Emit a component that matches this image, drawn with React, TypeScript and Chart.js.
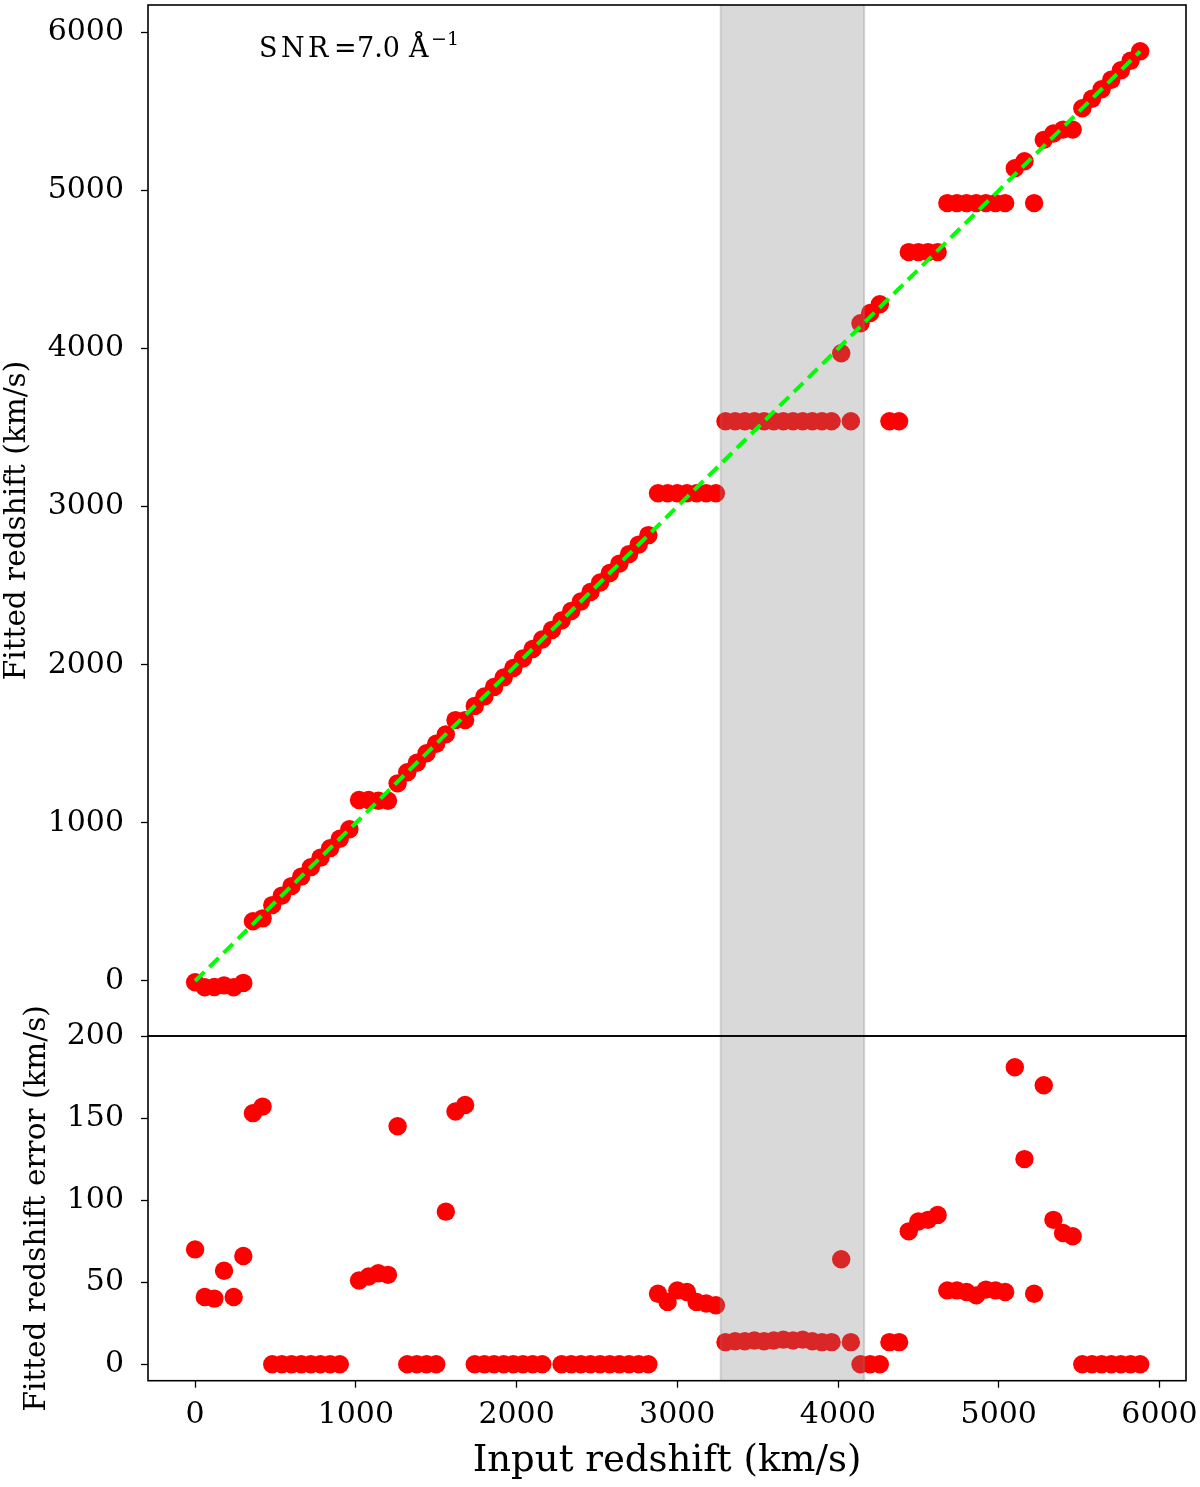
import React, { useEffect, useRef } from 'react';
import { Chart, registerables } from 'chart.js';

Chart.register(...registerables);

const FONT = '"DejaVu Serif", "Liberation Serif", serif';

const inputRedshift = [
  0, 60, 120, 180, 240, 300, 360, 420, 480, 540, 600, 660, 720, 780, 840, 900, 960, 1020, 1080, 1140,
  1200, 1260, 1320, 1380, 1440, 1500, 1560, 1620, 1680, 1740, 1800, 1860, 1920, 1980, 2040, 2100, 2160, 2220, 2280, 2340,
  2400, 2460, 2520, 2580, 2640, 2700, 2760, 2820, 2880, 2940, 3000, 3060, 3120, 3180, 3240, 3300, 3360, 3420, 3480, 3540,
  3600, 3660, 3720, 3780, 3840, 3900, 3960, 4020, 4080, 4140, 4200, 4260, 4320, 4380, 4440, 4500, 4560, 4620, 4680, 4740,
  4800, 4860, 4920, 4980, 5040, 5100, 5160, 5220, 5280, 5340, 5400, 5460, 5520, 5580, 5640, 5700, 5760, 5820, 5880,
];

const fittedRedshift = [
  -8, -40, -38, -28, -40, -12, 378, 396, 480, 540, 600, 660, 720, 780, 840, 900, 960, 1145, 1145, 1140,
  1140, 1250, 1320, 1380, 1440, 1500, 1560, 1650, 1650, 1740, 1800, 1860, 1920, 1980, 2040, 2100, 2160, 2220, 2280, 2340,
  2400, 2460, 2520, 2580, 2640, 2700, 2760, 2820, 3085, 3085, 3085, 3085, 3085, 3085, 3085, 3540, 3540, 3540, 3540, 3540,
  3540, 3540, 3540, 3540, 3540, 3540, 3540, 3970, 3540, 4160, 4225, 4280, 3540, 3540, 4610, 4610, 4610, 4610, 4920, 4920,
  4920, 4920, 4920, 4920, 4920, 5140, 5185, 4920, 5320, 5360, 5385, 5385, 5520, 5580, 5640, 5700, 5760, 5820, 5880,
];

const fittedError: (number | null)[] = [
  70, 41, 40, 57, 41, 66, 153, 157, 0, 0, 0, 0, 0, 0, 0, 0, null, 51, 53.5, 55.5,
  54.5, 145, 0, 0, 0, 0, 93, 154, 158, 0, 0, 0, 0, 0, 0, 0, 0, null, 0, 0,
  0, 0, 0, 0, 0, 0, 0, 0, 43, 38, 45, 44, 38, 37, 36, 13.5, 14, 14, 14.5, 14,
  14.5, 15, 14.5, 15, 14, 13.5, 13.5, 64, 13.5, 0, 0, 0, 13.5, 13.5, 81, 87, 88, 91, 45, 45,
  44, 42, 45.5, 45, 44, 181, 125, 43, 170, 88, 80, 78, 0, 0, 0, 0, 0, 0, 0,
];

const oneToOneX = [0, 5880];
const xTicks = [0, 1000, 2000, 3000, 4000, 5000, 6000];
const topYTicks = [0, 1000, 2000, 3000, 4000, 5000, 6000];
const bottomYTicks = [0, 50, 100, 150, 200];
const shadeRange = [3270, 4163];

// annotation text pieces with their horizontal positions (px)
const snrPieces: [string, number, string][] = [
  ['SNR', 259, '3.5px'],
  ['=', 334, '0px'],
  ['7.0', 357, '0px'],
  ['Å', 409, '0px'],
];
const snrExponent = '−1';

const X_MIN = -293;
const X_MAX = 6165;

const SHADE = 'rgba(128,128,128,0.3)';

function drawShade(chart: any) {
  const { ctx, chartArea, scales } = chart;
  const x0 = scales.x.getPixelForValue(shadeRange[0]);
  const x1 = scales.x.getPixelForValue(shadeRange[1]);
  ctx.save();
  ctx.fillStyle = SHADE;
  ctx.fillRect(x0, chartArea.top, x1 - x0, chartArea.bottom - chartArea.top);
  ctx.strokeStyle = SHADE;
  ctx.lineWidth = 2;
  ctx.beginPath();
  ctx.moveTo(x0, chartArea.top);
  ctx.lineTo(x0, chartArea.bottom);
  ctx.moveTo(x1, chartArea.top);
  ctx.lineTo(x1, chartArea.bottom);
  ctx.stroke();
  ctx.restore();
}

const framePlugin = {
  id: 'frame',
  afterDraw(chart: any) {
    const { ctx, chartArea } = chart;
    ctx.save();
    ctx.strokeStyle = '#000';
    ctx.lineWidth = 1.6;
    ctx.strokeRect(chartArea.left, chartArea.top, chartArea.right - chartArea.left, chartArea.bottom - chartArea.top);
    ctx.restore();
  },
};

const topShadePlugin = {
  id: 'topShade',
  beforeDatasetDraw(chart: any, args: any) {
    if (args.index === 0) drawShade(chart);
  },
};

const bottomShadePlugin = {
  id: 'bottomShade',
  afterDatasetsDraw(chart: any) {
    drawShade(chart);
  },
};

const snrPlugin = {
  id: 'snr',
  afterDraw(chart: any) {
    const { ctx } = chart;
    ctx.save();
    ctx.fillStyle = '#000';
    ctx.textAlign = 'left';
    ctx.textBaseline = 'alphabetic';
    ctx.font = `27px ${FONT}`;
    snrPieces.forEach(([t, x, ls]) => {
      (ctx as any).letterSpacing = ls;
      ctx.fillText(t, x, 57);
    });
    (ctx as any).letterSpacing = '0px';
    ctx.font = `19px ${FONT}`;
    ctx.fillText(snrExponent, 431, 45);
    ctx.restore();
  },
};

function tickGrid() {
  return {
    drawOnChartArea: false,
    drawTicks: true,
    tickLength: 7,
    tickWidth: 1.3,
    tickColor: '#000',
  };
}

function fixYWidth(s: any) {
  s.width = 148;
  s.paddingTop = 0;
  s.paddingBottom = 0;
  s.paddingLeft = 0;
  s.paddingRight = 0;
}

export default function App() {
  const topRef = useRef<HTMLCanvasElement>(null);
  const bottomRef = useRef<HTMLCanvasElement>(null);

  useEffect(() => {
    const pointsTop = inputRedshift.map((x, i) => ({ x, y: fittedRedshift[i] }));
    const pointsBottom = inputRedshift.map((x, i) => ({ x, y: fittedError[i] }));
    const line = oneToOneX.map((v) => ({ x: v, y: v }));

    const top = new Chart(topRef.current as HTMLCanvasElement, {
      type: 'scatter',
      data: {
        datasets: [
          {
            type: 'line',
            data: line,
            borderColor: '#00ff00',
            borderWidth: 4,
            borderDash: [13, 7],
            pointRadius: 0,
            fill: false,
          } as any,
          {
            data: pointsTop,
            backgroundColor: '#ff0000',
            borderWidth: 0,
            pointRadius: 9.2,
          },
        ],
      },
      options: {
        animation: false,
        responsive: false,
        events: [],
        layout: { autoPadding: false, padding: { top: 5, right: 14, bottom: 4, left: 0 } },
        plugins: { legend: { display: false }, tooltip: { enabled: false } },
        scales: {
          x: {
            type: 'linear',
            min: X_MIN,
            max: X_MAX,
            display: false,
          },
          y: {
            type: 'linear',
            min: -348,
            max: 6173,
            afterBuildTicks: (s: any) => {
              s.ticks = topYTicks.map((v) => ({ value: v }));
            },
            afterFit: fixYWidth,
            grid: tickGrid(),
            border: { display: false },
            ticks: {
              color: '#000',
              padding: 17,
              font: { family: FONT, size: 30 },
              callback: (v: any) => String(v),
            },
            title: {
              display: true,
              text: 'Fitted redshift (km/s)',
              color: '#000',
              font: { family: FONT, size: 29.5 },
              padding: { top: 0, bottom: 0 },
            },
          },
        },
      },
      plugins: [topShadePlugin, framePlugin, snrPlugin],
    });

    const bottom = new Chart(bottomRef.current as HTMLCanvasElement, {
      type: 'scatter',
      data: {
        datasets: [
          {
            data: pointsBottom,
            backgroundColor: '#ff0000',
            borderWidth: 0,
            pointRadius: 9.2,
          },
        ],
      },
      options: {
        animation: false,
        responsive: false,
        events: [],
        layout: { autoPadding: false, padding: { top: 36, right: 14, bottom: 0, left: 0 } },
        plugins: { legend: { display: false }, tooltip: { enabled: false } },
        scales: {
          x: {
            type: 'linear',
            min: X_MIN,
            max: X_MAX,
            afterBuildTicks: (s: any) => {
              s.ticks = xTicks.map((v) => ({ value: v }));
            },
            afterFit: (s: any) => {
              s.height = 106.3;
              s.paddingTop = 0;
              s.paddingBottom = 0;
              s.paddingLeft = 0;
              s.paddingRight = 0;
            },
            grid: tickGrid(),
            border: { display: false },
            ticks: {
              color: '#000',
              padding: 9.5,
              maxRotation: 0,
              font: { family: FONT, size: 30 },
              callback: (v: any) => String(v),
            },
            title: {
              display: true,
              text: 'Input redshift (km/s)',
              color: '#000',
              font: { family: FONT, size: 37 },
              padding: { top: 0, bottom: 3 },
            },
          },
          y: {
            type: 'linear',
            min: -10,
            max: 200,
            afterBuildTicks: (s: any) => {
              s.ticks = bottomYTicks.map((v) => ({ value: v }));
            },
            afterFit: fixYWidth,
            grid: tickGrid(),
            border: { display: false },
            ticks: {
              color: '#000',
              padding: 17,
              font: { family: FONT, size: 30 },
              callback: (v: any) => String(v),
            },
            title: {
              display: true,
              text: 'Fitted redshift error (km/s)',
              color: '#000',
              font: { family: FONT, size: 29.5 },
              padding: { top: 20, bottom: 0 },
            },
          },
        },
      },
      plugins: [bottomShadePlugin, framePlugin],
    });

    return () => {
      top.destroy();
      bottom.destroy();
    };
  }, []);

  return (
    <div style={{ position: 'absolute', left: 0, top: 0, width: 1200, height: 1487, background: '#fff' }}>
      <canvas
        ref={topRef}
        width={1200}
        height={1040}
        style={{ position: 'absolute', left: 0, top: 0, width: 1200, height: 1040 }}
      />
      <canvas
        ref={bottomRef}
        width={1200}
        height={487}
        style={{ position: 'absolute', left: 0, top: 1000, width: 1200, height: 487 }}
      />
    </div>
  );
}
